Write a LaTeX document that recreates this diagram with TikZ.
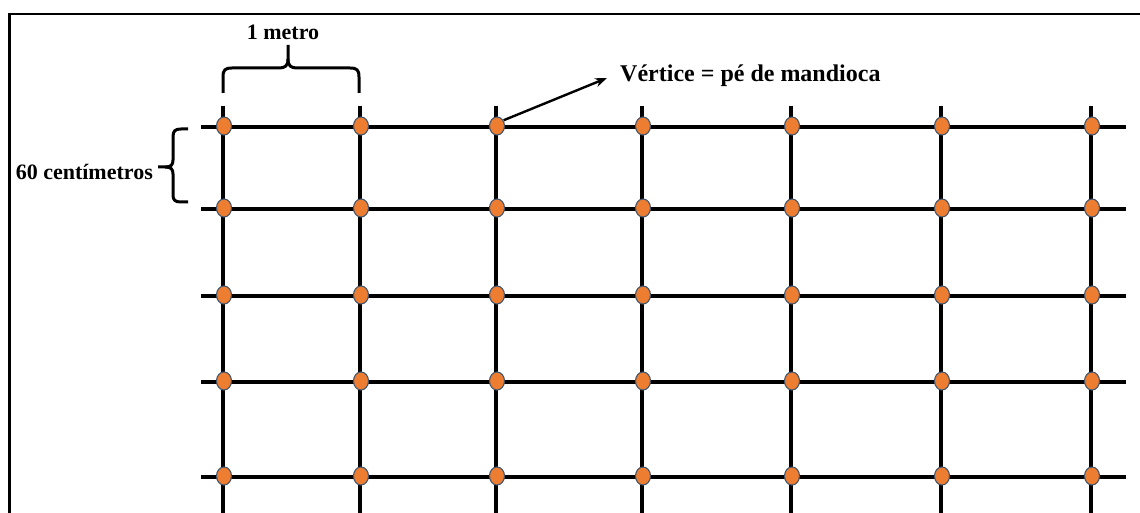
\documentclass[tikz,border=0pt]{standalone}
\usepackage{fontspec}
\setmainfont{Liberation Serif}
\usetikzlibrary{arrows.meta,shapes.geometric}
\definecolor{plantfill}{HTML}{ED7D31}
\definecolor{plantedge}{HTML}{41566E}
\tikzset{
  gridline/.style={line width=3.6pt, black},
  plant/.style={ellipse, draw=plantedge, line width=1.1pt, fill=plantfill,
                minimum width=15pt, minimum height=18pt, inner sep=0pt},
  bracket/.style={line width=3pt, black, line join=round},
  lbl/.style={font=\bfseries, inner sep=0pt},
  frameline/.style={line width=2.6pt, black}
}
\begin{document}
\begin{tikzpicture}[x=1pt, y=-1pt]
  \useasboundingbox (0,0) rectangle (1140,513);

  % outer frame (only left and top edges are visible)
  \draw[frameline] (9.5,513) -- (9.5,14) -- (1140,14);

  % planting grid: 7 columns (1 m apart), 5 rows (60 cm apart)
  \def\cols{223,360,496,642,791,941,1091}
  \def\rows{127,209,296,382,477}
  \foreach \x in \cols { \draw[gridline] (\x,106) -- (\x,513); }
  \foreach \y in \rows { \draw[gridline] (201,\y) -- (1126,\y); }

  % one cassava plant at each vertex
  \foreach \x [count=\c] in \cols {
    \foreach \y [count=\r] in \rows {
      \node[plant] (d\r-\c) at (\x+1,\y-1) {};
    }
  }

  % spacing between columns
  \draw[bracket] (223,93) -- (223,77) .. controls (223,70) and (225,68) .. (232,68)
    -- (279,68) .. controls (285,68) and (288,66) .. (288,59) -- (288,45);
  \draw[bracket] (288,59) .. controls (288,66) and (291,68) .. (297,68)
    -- (350,68) .. controls (357,68) and (359,70) .. (359,77) -- (359,93);
  \node[lbl, font=\bfseries\fontsize{22}{24}\selectfont, anchor=base] (metro) at (283,40) {1 metro};

  % spacing between rows
  \draw[bracket] (188,129) -- (181,129) .. controls (175,129) and (173,131) .. (173,137)
    -- (173,160) .. controls (173,165) and (171,167) .. (165,167) -- (158,167);
  \draw[bracket] (165,167) .. controls (171,167) and (173,169) .. (173,174)
    -- (173,195) .. controls (173,200) and (175,202) .. (181,202) -- (188,202);
  \node[lbl, font=\bfseries\fontsize{22}{24}\selectfont, anchor=base east] (cm) at (153,180) {60 centímetros};

  % pointer to a vertex
  \coordinate (tip) at (607,78);
  \draw[line width=2.4pt, -{Stealth[length=12pt,width=9pt]}] (d1-3.north east) ++(1,1) -- (tip);
  \node[lbl, font=\bfseries\fontsize{24}{26}\selectfont, anchor=base west] (vert) at (620,82) {Vértice = pé de mandioca};
\end{tikzpicture}
\end{document}
